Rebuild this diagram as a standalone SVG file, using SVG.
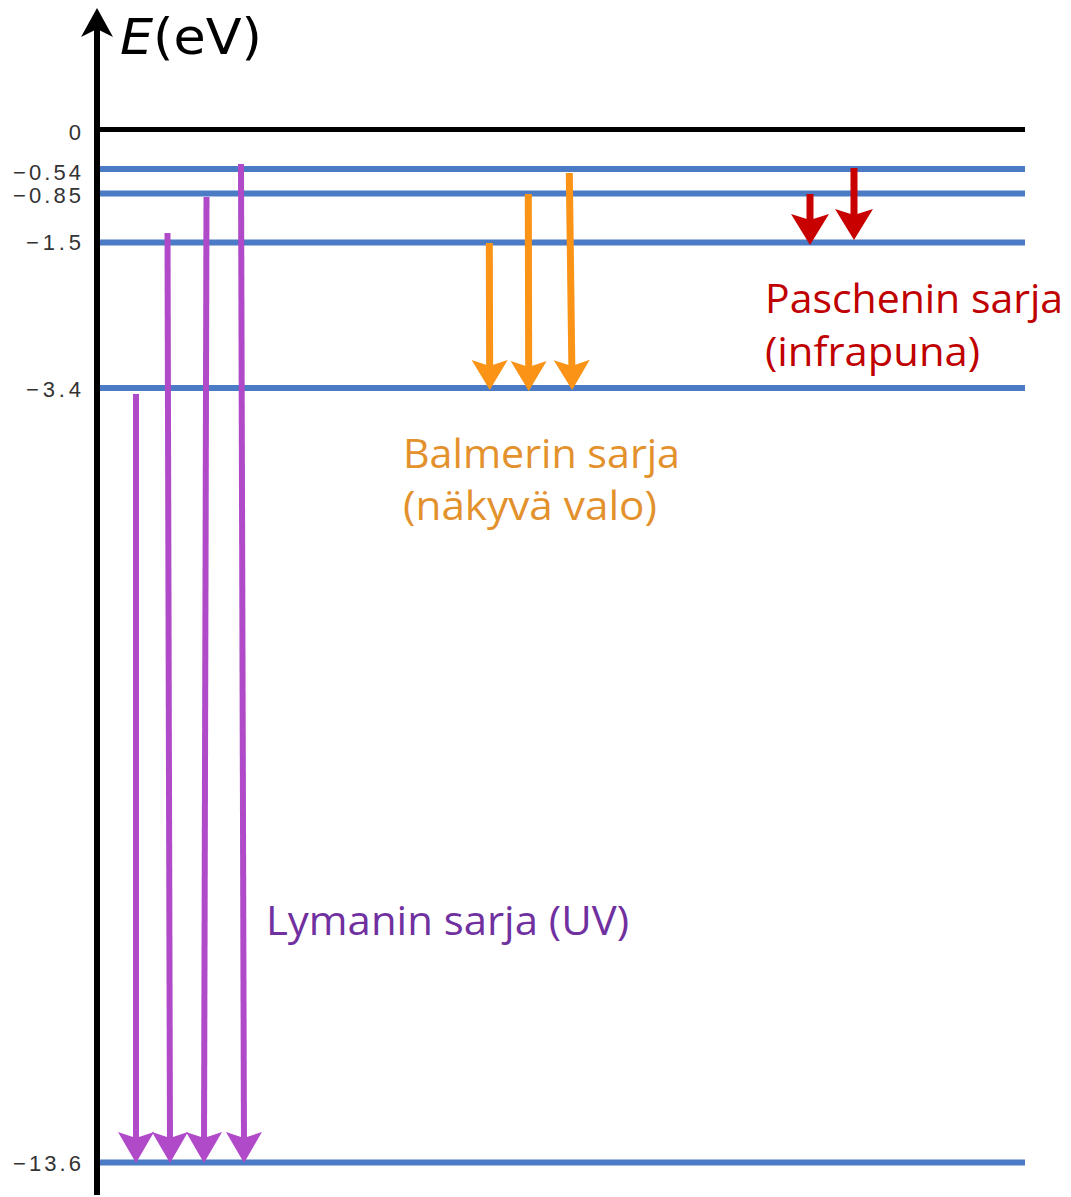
<svg xmlns="http://www.w3.org/2000/svg" width="1071" height="1197" viewBox="0 0 1071 1197">
  <style>
    .tick { font-family: "Liberation Sans", Arial, sans-serif; font-size: 22px; fill: #333333; text-anchor: end; }
    .lvl { stroke: #4a7bc4; stroke-width: 6; fill: none; }
    .lab { font-family: "Open Sans", sans-serif; font-size: 40px; }
    .ly { stroke: #b04ac8; stroke-width: 6; fill: none; marker-end: url(#hLy); }
    .ba { stroke: #fa9316; stroke-width: 7; fill: none; marker-end: url(#hBa); }
    .pa { stroke: #c80000; stroke-width: 7; fill: none; marker-end: url(#hPa); }
  </style>
  <defs>
    <marker id="hLy" markerUnits="userSpaceOnUse" orient="auto" refX="-12" refY="0" markerWidth="60" markerHeight="60" viewBox="-40 -30 60 60" overflow="visible">
      <path d="M0,0 L-31,-18 L-25,0 L-31,18 Z" fill="#b04ac8"/>
    </marker>
    <marker id="hBa" markerUnits="userSpaceOnUse" orient="auto" refX="-12" refY="0" markerWidth="60" markerHeight="60" viewBox="-40 -30 60 60" overflow="visible">
      <path d="M0,0 L-30,-18 L-24,0 L-30,18 Z" fill="#fa9316"/>
    </marker>
    <marker id="hPa" markerUnits="userSpaceOnUse" orient="auto" refX="-12" refY="0" markerWidth="60" markerHeight="60" viewBox="-40 -30 60 60" overflow="visible">
      <path d="M0,0 L-31,-19 L-25,0 L-31,19 Z" fill="#c80000"/>
    </marker>
  </defs>
  <rect width="1071" height="1197" fill="#ffffff"/>

  <g id="axis">
    <line x1="97" y1="1195" x2="97" y2="25" stroke="#000" stroke-width="6"/>
    <path d="M97,8 L113,37 L97,29 L81,37 Z" fill="#000"/>
    <text x="120" y="54" font-family="DejaVu Sans, sans-serif" font-size="50" fill="#000" textLength="142" lengthAdjust="spacingAndGlyphs"><tspan font-style="italic">E</tspan>(eV)</text>
  </g>

  <g id="levels">
    <line x1="100" y1="129.5" x2="1025" y2="129.5" stroke="#000" stroke-width="5"/>
    <line class="lvl" x1="100" y1="169" x2="1025" y2="169"/>
    <line class="lvl" x1="100" y1="193.5" x2="1025" y2="193.5"/>
    <line class="lvl" x1="100" y1="242.5" x2="1025" y2="242.5"/>
    <line class="lvl" x1="100" y1="388" x2="1025" y2="388"/>
    <line class="lvl" x1="100" y1="1162.5" x2="1025" y2="1162.5"/>
  </g>

  <g id="ticks">
    <text class="tick" x="81" y="140">0</text>
    <text class="tick" x="81" y="180" textLength="68" lengthAdjust="spacing">−0.54</text>
    <text class="tick" x="81" y="203" textLength="68" lengthAdjust="spacing">−0.85</text>
    <text class="tick" x="81" y="250" textLength="55" lengthAdjust="spacing">−1.5</text>
    <text class="tick" x="81" y="397" textLength="55" lengthAdjust="spacing">−3.4</text>
    <text class="tick" x="81" y="1171" textLength="68" lengthAdjust="spacing">−13.6</text>
  </g>

  <g id="connectors">
    <line class="ly" x1="136" y1="394" x2="136" y2="1151"/>
    <line class="ly" x1="167.5" y1="233" x2="170" y2="1151"/>
    <line class="ly" x1="206.5" y1="197" x2="204" y2="1151"/>
    <line class="ly" x1="241" y1="164" x2="244" y2="1151"/>
    <line class="ba" x1="489.3" y1="243" x2="489.7" y2="378"/>
    <line class="ba" x1="528.3" y1="194" x2="528.7" y2="379"/>
    <line class="ba" x1="569.3" y1="173" x2="572" y2="378"/>
    <line class="pa" x1="810" y1="194" x2="810" y2="233"/>
    <line class="pa" x1="854" y1="168" x2="854" y2="228"/>
  </g>

  <g id="paschen-label">
    <text class="lab" fill="#c00000" x="765" y="313" textLength="298" lengthAdjust="spacingAndGlyphs">Paschenin sarja</text>
    <text class="lab" fill="#c00000" x="765" y="366" textLength="215" lengthAdjust="spacingAndGlyphs">(infrapuna)</text>
  </g>
  <g id="balmer-label">
    <text class="lab" fill="#e3912c" x="403" y="468" textLength="277" lengthAdjust="spacingAndGlyphs">Balmerin sarja</text>
    <text class="lab" fill="#e3912c" x="403" y="520" textLength="254" lengthAdjust="spacingAndGlyphs">(näkyvä valo)</text>
  </g>
  <g id="lyman-label">
    <text class="lab" fill="#7030a0" x="266" y="935" textLength="363" lengthAdjust="spacingAndGlyphs">Lymanin sarja (UV)</text>
  </g>
</svg>
